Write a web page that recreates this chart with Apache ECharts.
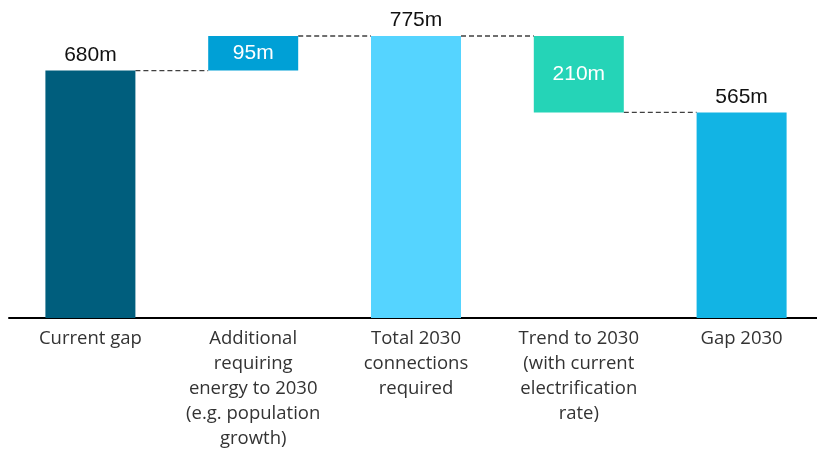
<!DOCTYPE html>
<html>
<head>
<meta charset="utf-8">
<script src="https://cdn.jsdelivr.net/npm/echarts@6/dist/echarts.min.js"></script>
<style>
  html, body { margin: 0; padding: 0; background: #fff; overflow: hidden; }
  #chart { width: 823px; height: 451px; }
</style>
</head>
<body>
<div id="chart"></div>
<script>
  // waterfall data (millions)
  var categories = [
    'Current gap',
    'Additional\nrequiring\nenergy to 2030\n(e.g. population\ngrowth)',
    'Total 2030\nconnections\nrequired',
    'Trend to 2030\n(with current\nelectrification\nrate)',
    'Gap 2030'
  ]
  var baseValues = [0, 680, 0, 565, 0]
  var barValues = [680, 95, 775, 210, 565]
  var barColors = ['#005E7D', '#00A0D6', '#55D4FF', '#25D4B7', '#12B4E4']
  var labelInside = [false, true, false, true, false]
  // level of each dashed connector between bar i and i+1
  var connectorLevels = [680, 775, 775, 565]

  var barWidth = 90

  var myChart = echarts.init(document.getElementById('chart'))

  var option = {
    animation: false,
    grid: {
      left: 9,
      right: 0,
      top: 36,
      bottom: 132,
      containLabel: false
    },
    xAxis: {
      type: 'category',
      data: categories,
      axisLine: { lineStyle: { color: '#000', width: 2 } },
      axisTick: { show: false },
      axisLabel: {
        interval: 0,
        margin: 8,
        fontFamily: 'Open Sans',
        fontSize: 18.5,
        lineHeight: 25,
        color: '#333'
      }
    },
    yAxis: {
      type: 'value',
      min: 0,
      max: 775,
      show: false,
      splitLine: { show: false }
    },
    series: [
      {
        type: 'bar',
        stack: 'wf',
        barWidth: barWidth,
        silent: true,
        itemStyle: { color: 'transparent' },
        data: baseValues
      },
      {
        type: 'bar',
        stack: 'wf',
        barWidth: barWidth,
        data: barValues.map(function (v, i) {
          return {
            value: v,
            itemStyle: { color: barColors[i] },
            label: labelInside[i]
              ? { position: 'inside', color: '#fff' }
              : { position: 'top', color: '#111', distance: 5 }
          }
        }),
        label: {
          show: true,
          fontFamily: 'Liberation Sans',
          fontSize: 21,
          formatter: function (p) { return p.value + 'm' }
        }
      },
      {
        type: 'custom',
        silent: true,
        z: 1,
        data: connectorLevels.map(function (v, i) { return [i, v] }),
        renderItem: function (params, api) {
          var i = api.value(0)
          var lvl = api.value(1)
          var a = api.coord([i, lvl])
          var b = api.coord([i + 1, lvl])
          return {
            type: 'line',
            shape: {
              x1: a[0] + barWidth / 2,
              y1: a[1],
              x2: b[0] - barWidth / 2,
              y2: b[1]
            },
            style: {
              stroke: '#404040',
              lineWidth: 1.3,
              lineDash: [5, 3]
            }
          }
        }
      }
    ]
  }

  myChart.setOption(option)
</script>
</body>
</html>
